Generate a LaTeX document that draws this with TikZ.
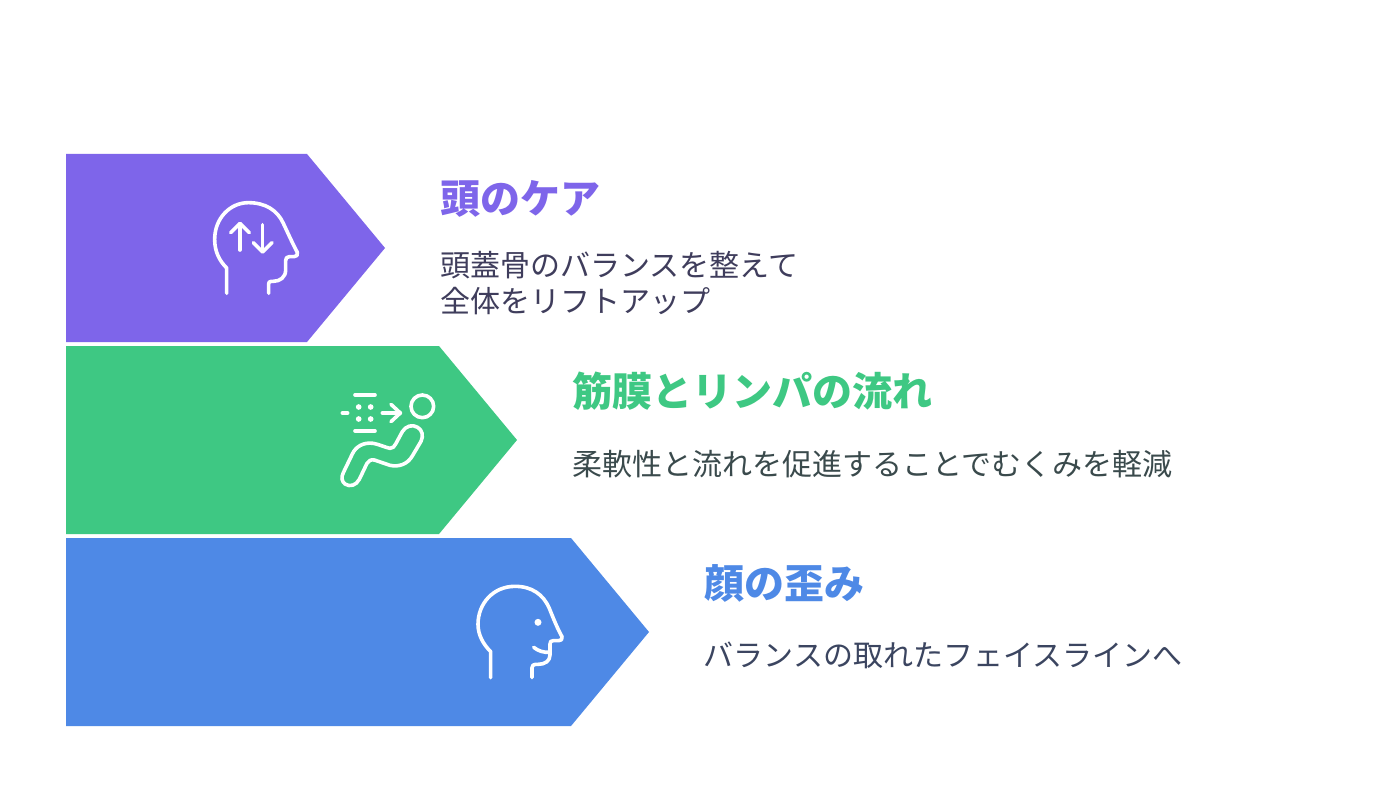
\documentclass[tikz,border=0pt]{standalone}
\usepackage{fontspec}
\newfontfamily\cjk{Noto Sans CJK JP}
\definecolor{cpurple}{HTML}{7E65EA}
\definecolor{cgreen}{HTML}{3EC883}
\definecolor{cblue}{HTML}{4E89E6}
\definecolor{dpurple}{HTML}{3F3D5C}
\definecolor{dgreen}{HTML}{3A4A4C}
\definecolor{dblue}{HTML}{3B4560}
\tikzset{
  titletext/.style={anchor=base west,inner sep=0pt,font=\cjk\bfseries\fontsize{40}{40}\selectfont},
  desctext/.style={anchor=base west,inner sep=0pt,font=\cjk\fontsize{30}{36}\selectfont,align=left},
  iconline/.style={draw=white,line width=3.6pt,line cap=round,line join=round},
  zoomed/.style={x=0.3333pt,y=-0.3333pt}
}
\begin{document}
\begin{tikzpicture}[x=1pt,y=-1pt]
\useasboundingbox (0,0) rectangle (1388,802);
\fill[white] (0,0) rectangle (1388,802);
\fill[cpurple] (66,154) -- (307,154) -- (385,248) -- (307,342) -- (66,342) -- cycle;
\fill[cgreen] (66,346) -- (439,346) -- (517,440) -- (439,534) -- (66,534) -- cycle;
\fill[cblue] (66,538) -- (571,538) -- (649,632) -- (571,726) -- (66,726) -- cycle;
\node[titletext,text=cpurple] (t1) at (440,214) {頭のケア};
\node[desctext,text=dpurple,anchor=north west] (d1) at (440,251) {頭蓋骨のバランスを整えて\\全体をリフトアップ};
\node[titletext,text=cgreen] (t2) at (572,406) {筋膜とリンパの流れ};
\node[desctext,text=dgreen] (d2) at (572,475) {柔軟性と流れを促進することでむくみを軽減};
\node[titletext,text=cblue] (t3) at (704,598) {顔の歪み};
\node[desctext,text=dblue] (d3) at (703.5,666) {バランスの取れたフェイスラインへ};
% head with arrows
\begin{scope}[shift={(190,190)},zoomed]
\draw[iconline] (110,310) -- (110,234) .. controls (88,212) and (74,185) .. (74,148)
  .. controls (74,85) and (120,38) .. (175,38)
  .. controls (225,38) and (262,60) .. (280,100)
  .. controls (295,132) and (310,165) .. (322,187)
  .. controls (325,195) and (320,200) .. (312,200)
  -- (298,200) .. controls (290,200) and (287,205) .. (287,212)
  -- (287,240) .. controls (287,262) and (270,274) .. (250,274)
  -- (244,274) .. controls (238,274) and (236,277) .. (236,282) -- (236,310);
\draw[iconline] (150,180) -- (150,102);
\draw[iconline] (122,128) -- (150,100) -- (178,128);
\draw[iconline] (218,104) -- (218,184);
\draw[iconline] (190,158) -- (218,186) -- (246,158);
\end{scope}
% lymph flow
\begin{scope}[shift={(325,380)},zoomed]
\draw[iconline] (90,45) -- (150,45);
\draw[iconline] (90,153) -- (150,153);
\draw[iconline] (52,99) -- (68,99);
\draw[iconline] (172,99) -- (226,99);
\draw[iconline] (198,73) -- (226,99) -- (198,125);
\fill[white] (101,81) circle (8.5) (137,81) circle (8.5) (101,117) circle (8.5) (137,117) circle (8.5);
\draw[iconline] (292,79) circle (34);
\draw[iconline] (55,278) -- (82,222) .. controls (92,200) and (115,186) .. (145,190)
  .. controls (165,194) and (180,202) .. (195,205)
  .. controls (203,205) and (208,200) .. (212,192)
  -- (232,155) .. controls (242,138) and (262,132) .. (278,142)
  .. controls (292,150) and (296,168) .. (288,184)
  -- (262,228) .. controls (248,252) and (222,262) .. (195,256)
  -- (148,240) .. controls (138,238) and (130,242) .. (126,250)
  -- (103,298) .. controls (94,316) and (74,322) .. (60,312)
  .. controls (50,304) and (48,292) .. (55,278) -- cycle;
\end{scope}
% head with face
\begin{scope}[shift={(460,575)},zoomed]
\draw[iconline] (92,308) -- (92,230) .. controls (70,208) and (54,180) .. (54,148)
  .. controls (54,85) and (100,34) .. (165,34)
  .. controls (215,34) and (250,58) .. (268,100)
  .. controls (280,130) and (292,160) .. (306,185)
  .. controls (308,193) and (304,197) .. (296,197)
  -- (280,197) .. controls (273,197) and (270,200) .. (270,207)
  -- (270,240) .. controls (270,258) and (255,268) .. (235,268)
  -- (227,268) .. controls (220,268) and (216,272) .. (216,278) -- (216,308);
\draw[iconline] (221,217) .. controls (235,228) and (250,233) .. (270,232);
\fill[white] (234,142) circle (10.5);
\end{scope}
\end{tikzpicture}
\end{document}
